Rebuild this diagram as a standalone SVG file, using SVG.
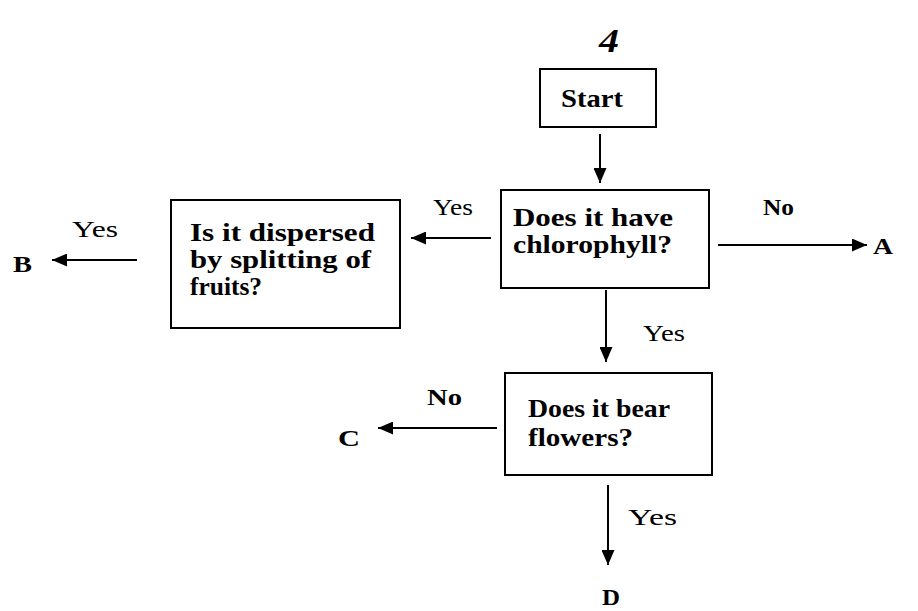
<svg xmlns="http://www.w3.org/2000/svg" width="918" height="611" viewBox="0 0 918 611">
  <style>
    .box { fill: #fff; stroke: #000; stroke-width: 2; }
    .wire { stroke: #000; stroke-width: 2; fill: none; }
    text { font-family: "Liberation Serif", "Times New Roman", serif; fill: #000; }
    .q { font-size: 25px; font-weight: bold; }
    .lbl { font-size: 23px; }
    .end { font-size: 24px; font-weight: bold; }
  </style>
  <defs>
    <marker id="head" markerUnits="userSpaceOnUse" markerWidth="16" markerHeight="13" refX="15" refY="6.5" orient="auto">
      <path d="M0,0 L15,6.5 L0,13 z" fill="#000"/>
    </marker>
  </defs>
  <rect width="918" height="611" fill="#fff"/>

  <!-- page number, handwritten -->
  <text x="599" y="52" font-size="34" font-style="italic" font-weight="bold" textLength="20" lengthAdjust="spacingAndGlyphs">4</text>

  <g id="connectors">
    <line class="wire" x1="600" y1="134" x2="600" y2="183" marker-end="url(#head)"/>
    <line class="wire" x1="491" y1="238" x2="411" y2="238" marker-end="url(#head)"/>
    <line class="wire" x1="718" y1="245" x2="867" y2="245" marker-end="url(#head)"/>
    <line class="wire" x1="137" y1="260" x2="52" y2="260" marker-end="url(#head)"/>
    <line class="wire" x1="606" y1="290" x2="606" y2="362" marker-end="url(#head)"/>
    <line class="wire" x1="497" y1="428" x2="378" y2="428" marker-end="url(#head)"/>
    <line class="wire" x1="608" y1="485" x2="608" y2="565" marker-end="url(#head)"/>
    <text class="lbl" x="433" y="215" textLength="40" lengthAdjust="spacingAndGlyphs">Yes</text>
    <text class="lbl" font-weight="bold" x="763" y="215" textLength="31" lengthAdjust="spacingAndGlyphs">No</text>
    <text class="lbl" x="72" y="237" textLength="46" lengthAdjust="spacingAndGlyphs">Yes</text>
    <text class="lbl" x="643" y="341" textLength="42" lengthAdjust="spacingAndGlyphs">Yes</text>
    <text class="lbl" font-weight="bold" x="427" y="405" textLength="35" lengthAdjust="spacingAndGlyphs">No</text>
    <text class="lbl" x="628" y="525" textLength="49" lengthAdjust="spacingAndGlyphs">Yes</text>
  </g>

  <g id="start">
    <rect class="box" x="540" y="69" width="116" height="58"/>
    <text class="q" x="561" y="107" textLength="62" lengthAdjust="spacingAndGlyphs">Start</text>
  </g>

  <g id="chlorophyll">
    <rect class="box" x="501" y="190" width="208" height="98"/>
    <text class="q" x="513" y="226" textLength="160" lengthAdjust="spacingAndGlyphs">Does it have</text>
    <text class="q" x="513" y="253" textLength="159" lengthAdjust="spacingAndGlyphs">chlorophyll?</text>
  </g>

  <g id="dispersal">
    <rect class="box" x="171" y="200" width="229" height="128"/>
    <text class="q" x="190" y="241" textLength="185" lengthAdjust="spacingAndGlyphs">Is it dispersed</text>
    <text class="q" x="190" y="268" textLength="181" lengthAdjust="spacingAndGlyphs">by splitting of</text>
    <text class="q" x="190" y="295" textLength="72" lengthAdjust="spacingAndGlyphs">fruits?</text>
  </g>

  <g id="flowers">
    <rect class="box" x="505" y="373" width="207" height="102"/>
    <text class="q" x="528" y="417" textLength="142" lengthAdjust="spacingAndGlyphs">Does it bear</text>
    <text class="q" x="528" y="446" textLength="105" lengthAdjust="spacingAndGlyphs">flowers?</text>
  </g>

  <g id="outcome-a"><text class="end" x="873" y="254" textLength="20" lengthAdjust="spacingAndGlyphs">A</text></g>
  <g id="outcome-b"><text class="end" x="13" y="272" textLength="19" lengthAdjust="spacingAndGlyphs">B</text></g>
  <g id="outcome-c"><text class="end" x="338" y="446" textLength="22" lengthAdjust="spacingAndGlyphs">C</text></g>
  <g id="outcome-d"><text class="end" x="602" y="605" textLength="18" lengthAdjust="spacingAndGlyphs">D</text></g>
</svg>
